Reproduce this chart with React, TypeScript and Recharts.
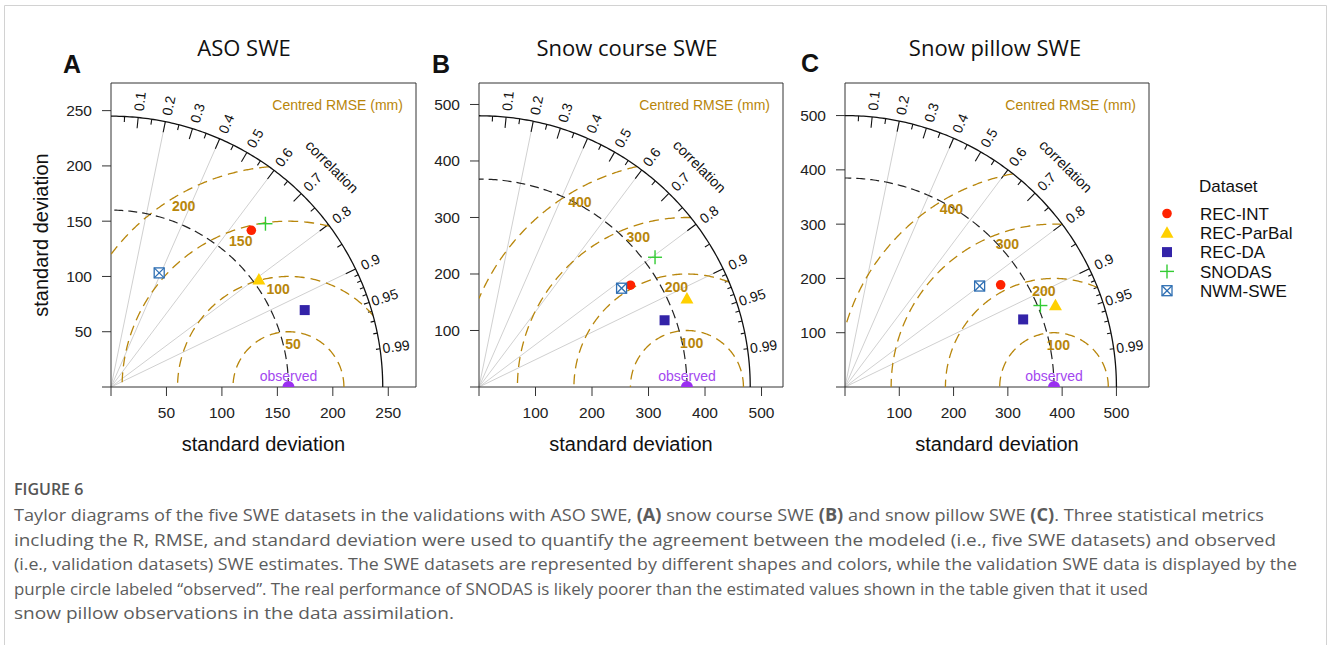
import React from 'react';
import { ScatterChart, Scatter, XAxis, YAxis, ReferenceLine } from 'recharts';

const DATASETS = ['REC-INT', 'REC-ParBal', 'REC-DA', 'SNODAS', 'NWM-SWE'];

// standard deviation (mm) and correlation of each dataset, same order as DATASETS
const ASO_SD = [190, 165, 188, 203, 112];
const ASO_R = [0.666, 0.808, 0.929, 0.686, 0.388];
const COURSE_SD = [323, 400, 349, 387, 307];
const COURSE_R = [0.83, 0.92, 0.941, 0.805, 0.822];
const PILLOW_SD = [343, 416, 351, 390, 310];
const PILLOW_R = [0.836, 0.932, 0.935, 0.923, 0.8];

// panels A, B, C: observed sd, outer arc radius, axis range
const OBS_SD = [160, 368, 385];
const MAX_SD = [245, 480, 500];
const AXIS_MAX = [275, 538, 560];

const SD_TICKS_A = [0, 50, 100, 150, 200, 250];
const SD_TICKS_BC = [0, 100, 200, 300, 400, 500];
const RMSE_A = [50, 100, 150, 200];
const RMSE_BC = [100, 200, 300, 400];

const CORR_MAJOR = [0.1, 0.2, 0.3, 0.4, 0.5, 0.6, 0.7, 0.8, 0.9];
const CORR_MINOR = [0.05, 0.15, 0.25, 0.35, 0.45, 0.55, 0.65, 0.75, 0.85, 0.95];
const CORR_FINE = [0.91, 0.92, 0.93, 0.94, 0.96, 0.97, 0.98, 0.99];
const CORR_LABELS = [0.1, 0.2, 0.3, 0.4, 0.5, 0.6, 0.7, 0.8, 0.9, 0.95, 0.99];
const CORR_GRID = [0.2, 0.4, 0.6, 0.8, 0.9];

const FONT = '"Liberation Sans", Arial, sans-serif';
const TITLE_FONT = '"Open Sans", sans-serif';
const GOLD = '#b8860b';
const COLORS = ['#ff2200', '#ffd000', '#3323a8', '#33cc33', '#2f6fb3'];
const OBS_COLOR = '#9a2ff0';

const PLOT_TOP = 83;
const PLOT_H = 304;
const LEFT_W = 70;
const RIGHT_W = 10;
const TOP_H = 10;
const BOTTOM_H = 40;

type Pt = { x: number; y: number; text?: string; rot?: number };

const polar = (r: number, c: number): Pt => ({ x: r * c, y: r * Math.sqrt(1 - c * c) });

// circle centred on (cx, 0), only the part inside the outer arc and right of the y axis
function arc(cx: number, r: number, limit: number): Pt[] {
  let a0 = 0;
  let a1 = Math.PI;
  if (cx + r > limit) {
    const xi = (limit * limit - r * r + cx * cx) / (2 * cx);
    a0 = Math.acos(Math.max(-1, Math.min(1, (xi - cx) / r)));
  }
  if (cx - r < 0) a1 = cx === 0 ? Math.PI / 2 : Math.acos(-cx / r);
  const pts: Pt[] = [];
  const n = 160;
  for (let i = 0; i <= n; i++) {
    const a = a0 + ((a1 - a0) * i) / n;
    pts.push({ x: cx + r * Math.cos(a), y: r * Math.sin(a) });
  }
  return pts;
}

const Empty = () => <g />;

const Marker = ({ kind, cx, cy }: { kind: number; cx: number; cy: number }) => {
  const c = COLORS[kind];
  if (kind === 0) return <circle cx={cx} cy={cy} r={4.8} fill={c} />;
  if (kind === 1)
    return <polygon points={`${cx},${cy - 6.5} ${cx + 6.5},${cy + 5} ${cx - 6.5},${cy + 5}`} fill={c} />;
  if (kind === 2) return <rect x={cx - 5} y={cy - 5} width={10} height={10} fill={c} />;
  if (kind === 3)
    return (
      <g stroke={c} strokeWidth={1.4}>
        <line x1={cx - 7} y1={cy} x2={cx + 7} y2={cy} />
        <line x1={cx} y1={cy - 7} x2={cx} y2={cy + 7} />
      </g>
    );
  return (
    <g stroke={c} strokeWidth={1.3} fill="none">
      <rect x={cx - 5} y={cy - 5} width={10} height={10} fill="#fff" />
      <line x1={cx - 5} y1={cy - 5} x2={cx + 5} y2={cy + 5} />
      <line x1={cx + 5} y1={cy - 5} x2={cx - 5} y2={cy + 5} />
    </g>
  );
};

const textShape =
  (size: number, color: string, opts: { bold?: boolean; anchor?: string; baseline?: string; dy?: number } = {}) =>
  (p: any) => {
    const d = p.payload || {};
    return (
      <text
        x={p.cx}
        y={p.cy}
        dy={opts.dy || 0}
        transform={d.rot ? `rotate(${d.rot} ${p.cx} ${p.cy})` : undefined}
        textAnchor={opts.anchor || 'middle'}
        dominantBaseline={opts.baseline || 'central'}
        fontSize={size}
        fontFamily={FONT}
        fontWeight={opts.bold ? 'bold' : 'normal'}
        fill={color}
      >
        {d.text}
      </text>
    );
  };

interface PanelProps {
  plotLeft: number;
  plotW: number;
  sds: number[];
  rs: number[];
  obs: number;
  maxsd: number;
  axisMax: number;
  ticks: number[];
  rmse: number[];
}

const Panel = ({ plotLeft, plotW, sds, rs, obs, maxsd, axisMax, ticks, rmse }: PanelProps) => {
  const k = PLOT_H / axisMax; // px per mm
  const ax = { xAxisId: 'b', yAxisId: 'l' };
  const fmt = (v: number) => (v === 0 ? '' : String(v));

  const tickSeg = (c: number, inner: number) => {
    const a = polar(maxsd, c);
    const b = polar(maxsd * inner, c);
    return (
      <ReferenceLine
        key={`t${c}`}
        {...ax}
        segment={[{ x: b.x, y: b.y }, { x: a.x, y: a.y }]}
        stroke="#111"
        strokeWidth={1.1}
        ifOverflow="visible"
      />
    );
  };

  const corrLabels = CORR_LABELS.map((c) => ({
    ...polar(maxsd * 1.06, c),
    text: String(c),
    rot: -(Math.acos(c) * 180) / Math.PI,
  }));
  const rmseLabels = rmse.map((r, i) => {
    const a = ((84 + 12 * i) * Math.PI) / 180;
    const rr = r - 12 / k;
    return { x: obs + rr * Math.cos(a), y: rr * Math.sin(a), text: String(r) };
  });
  const corrTitle = [{ ...polar(maxsd * 1.15, Math.SQRT1_2), text: 'correlation', rot: 45 }];
  const rmseTitle = [{ x: axisMax - 13 / k, y: axisMax - 27 / k, text: 'Centred RMSE (mm)' }];
  const obsLabel = [{ x: obs, y: 0, text: 'observed' }];

  return (
    <div style={{ position: 'absolute', left: plotLeft - LEFT_W, top: PLOT_TOP - TOP_H }}>
      <ScatterChart
        width={LEFT_W + plotW + RIGHT_W}
        height={TOP_H + PLOT_H + BOTTOM_H}
        margin={{ top: 0, right: 0, bottom: 0, left: 0 }}
      >
        <XAxis
          xAxisId="b"
          dataKey="x"
          type="number"
          domain={[0, axisMax]}
          allowDataOverflow
          ticks={ticks}
          interval={0}
          tickFormatter={fmt}
          height={BOTTOM_H}
          tickSize={9}
          tickMargin={11}
          stroke="#333"
          tick={{ fontSize: 15.5, fill: '#222', fontFamily: FONT }}
        />
        <XAxis
          xAxisId="t"
          orientation="top"
          dataKey="x"
          type="number"
          domain={[0, axisMax]}
          allowDataOverflow
          ticks={ticks}
          interval={0}
          height={TOP_H}
          tickSize={9}
          tick={false}
          stroke="#333"
        />
        <YAxis
          yAxisId="l"
          dataKey="y"
          type="number"
          domain={[0, axisMax]}
          allowDataOverflow
          ticks={ticks}
          interval={0}
          tickFormatter={fmt}
          width={LEFT_W}
          tickSize={9}
          tickMargin={10}
          stroke="#333"
          tick={{ fontSize: 15.5, fill: '#222', fontFamily: FONT }}
        />
        <YAxis
          yAxisId="r"
          orientation="right"
          dataKey="y"
          type="number"
          domain={[0, axisMax]}
          allowDataOverflow
          ticks={ticks}
          interval={0}
          width={RIGHT_W}
          tickSize={9}
          tick={false}
          stroke="#333"
        />

        {CORR_GRID.map((c) => {
          const e = polar(maxsd, c);
          return (
            <ReferenceLine
              key={`g${c}`}
              {...ax}
              segment={[{ x: 0, y: 0 }, { x: e.x, y: e.y }]}
              stroke="#d0d0d0"
              strokeWidth={1}
              ifOverflow="visible"
            />
          );
        })}

        {rmse.map((r) => (
          <Scatter
            key={`rm${r}`}
            {...ax}
            data={arc(obs, r, maxsd)}
            line={{ stroke: GOLD, strokeWidth: 1.3, strokeDasharray: '10 6', fill: 'none' }}
            shape={Empty}
            isAnimationActive={false}
          />
        ))}
        <Scatter
          {...ax}
          data={arc(0, obs, maxsd)}
          line={{ stroke: '#222', strokeWidth: 1.2, strokeDasharray: '9 5', fill: 'none' }}
          shape={Empty}
          isAnimationActive={false}
        />
        <Scatter
          {...ax}
          data={arc(0, maxsd, maxsd * 1.01)}
          line={{ stroke: '#111', strokeWidth: 1.3, fill: 'none' }}
          shape={Empty}
          isAnimationActive={false}
        />

        {CORR_MAJOR.map((c) => tickSeg(c, 0.96))}
        {CORR_MINOR.map((c) => tickSeg(c, 0.98))}
        {CORR_FINE.map((c) => tickSeg(c, 0.985))}

        <Scatter {...ax} data={corrLabels} shape={textShape(14, '#111')} isAnimationActive={false} />
        <Scatter {...ax} data={corrTitle} shape={textShape(14.5, '#111')} isAnimationActive={false} />
        <Scatter
          {...ax}
          data={rmseLabels}
          shape={textShape(14, GOLD, { bold: true })}
          isAnimationActive={false}
        />
        <Scatter
          {...ax}
          data={rmseTitle}
          shape={textShape(14, GOLD, { anchor: 'end', baseline: 'auto' })}
          isAnimationActive={false}
        />
        <Scatter
          {...ax}
          data={obsLabel}
          shape={textShape(14, '#a347f0', { baseline: 'auto', dy: -6 })}
          isAnimationActive={false}
        />
        <Scatter
          {...ax}
          data={[{ x: obs, y: 0 }]}
          shape={(p: any) => (
            <path d={`M${p.cx - 6},${p.cy} A6,6 0 0 1 ${p.cx + 6},${p.cy} Z`} fill={OBS_COLOR} />
          )}
          isAnimationActive={false}
        />

        {DATASETS.map((name, i) => (
          <Scatter
            key={name}
            name={name}
            {...ax}
            data={[polar(sds[i], rs[i])]}
            shape={(p: any) => <Marker kind={i} cx={p.cx} cy={p.cy} />}
            isAnimationActive={false}
          />
        ))}
      </ScatterChart>
    </div>
  );
};

const CAPTION: { text: string; len: number }[] = [
  { text: '', len: 1250 },
  { text: 'including the R, RMSE, and standard deviation were used to quantify the agreement between the modeled (i.e., five SWE datasets) and observed', len: 1262 },
  { text: '(i.e., validation datasets) SWE estimates. The SWE datasets are represented by different shapes and colors, while the validation SWE data is displayed by the', len: 1283 },
  { text: 'purple circle labeled \u201cobserved\u201d. The real performance of SNODAS is likely poorer than the estimated values shown in the table given that it used', len: 1134 },
  { text: 'snow pillow observations in the data assimilation.', len: 440 },
];

const Overlay = () => {
  const axisTitle = { fontSize: 20, fontFamily: FONT, fill: '#111', textAnchor: 'middle' as const };
  const title = { fontSize: 22, fontFamily: TITLE_FONT, fill: '#111', textAnchor: 'middle' as const };
  const letter = { fontSize: 25, fontFamily: FONT, fontWeight: 'bold' as const, fill: '#111' };
  const cap = {
    fontSize: 17,
    fontFamily: TITLE_FONT,
    fill: '#5c5c5c',
    lengthAdjust: 'spacingAndGlyphs' as const,
  };
  return (
    <svg width={1330} height={645} style={{ position: 'absolute', left: 0, top: 0 }}>
      <path d="M4.5,645 V5.5 H1326.5 V645" fill="none" stroke="#d2d2d2" strokeWidth={1} />

      <text x={63} y={73} {...letter}>A</text>
      <text x={432} y={73} {...letter}>B</text>
      <text x={801} y={72} {...letter}>C</text>
      <text x={244} y={56} {...title}>ASO SWE</text>
      <text x={627} y={55.5} {...title}>Snow course SWE</text>
      <text x={995} y={56} {...title}>Snow pillow SWE</text>

      <text x={263.5} y={451} {...axisTitle}>standard deviation</text>
      <text x={631} y={451} {...axisTitle}>standard deviation</text>
      <text x={997} y={451} {...axisTitle}>standard deviation</text>
      <text x={48} y={235} transform="rotate(-90 48 235)" {...axisTitle}>standard deviation</text>

      <text x={1199} y={191.5} fontSize={17} fontFamily={FONT} fill="#111">Dataset</text>
      {DATASETS.map((name, i) => (
        <g key={name}>
          <Marker kind={i} cx={1167} cy={213.5 + i * 19.3} />
          <text x={1200} y={220 + i * 19.2} fontSize={17} fontFamily={FONT} fill="#111">
            {name}
          </text>
        </g>
      ))}

      <text x={14} y={495} fontSize={16} fontFamily={TITLE_FONT} fontWeight={600} fill="#555">FIGURE 6</text>
      <text x={14} y={521} textLength={CAPTION[0].len} {...cap}>
        Taylor diagrams of the five SWE datasets in the validations with ASO SWE, <tspan fontWeight="bold">(A)</tspan> snow
        course SWE <tspan fontWeight="bold">(B)</tspan> and snow pillow SWE <tspan fontWeight="bold">(C)</tspan>. Three
        statistical metrics
      </text>
      {CAPTION.slice(1).map((l, i) => (
        <text key={i} x={14} y={545.5 + i * 24.5} textLength={l.len} {...cap}>
          {l.text}
        </text>
      ))}
    </svg>
  );
};

export default function App() {
  return (
    <div style={{ position: 'absolute', left: 0, top: 0, width: 1330, height: 645, background: '#fff' }}>
      <Overlay />
      <Panel plotLeft={111} plotW={305} sds={ASO_SD} rs={ASO_R} obs={OBS_SD[0]} maxsd={MAX_SD[0]} axisMax={AXIS_MAX[0]} ticks={SD_TICKS_A} rmse={RMSE_A} />
      <Panel plotLeft={479} plotW={304} sds={COURSE_SD} rs={COURSE_R} obs={OBS_SD[1]} maxsd={MAX_SD[1]} axisMax={AXIS_MAX[1]} ticks={SD_TICKS_BC} rmse={RMSE_BC} />
      <Panel plotLeft={845} plotW={304} sds={PILLOW_SD} rs={PILLOW_R} obs={OBS_SD[2]} maxsd={MAX_SD[2]} axisMax={AXIS_MAX[2]} ticks={SD_TICKS_BC} rmse={RMSE_BC} />
    </div>
  );
}
